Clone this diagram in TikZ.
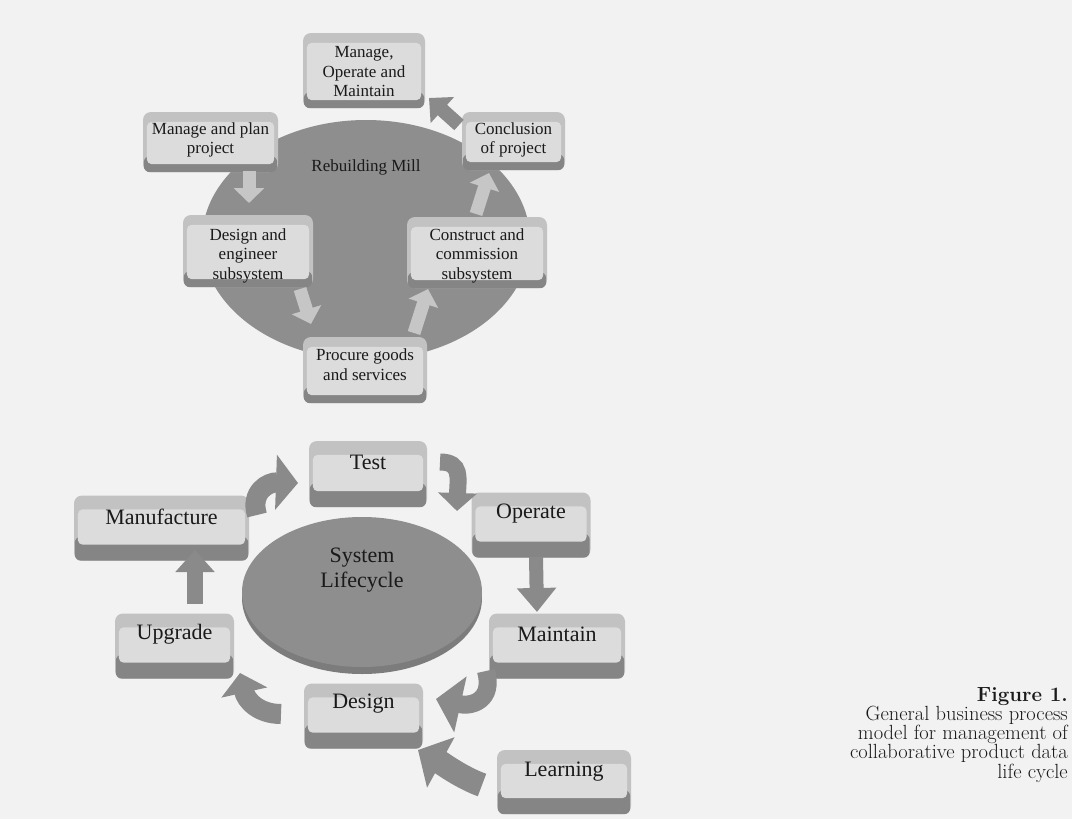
\documentclass[tikz,border=0pt]{standalone}
\usepackage{fontspec}
\newfontfamily\diagfont{Liberation Serif}
\usetikzlibrary{shapes.geometric,arrows.meta,calc}
\definecolor{bgcol}{HTML}{F2F2F2}
\definecolor{boxband}{HTML}{C2C2C2}
\definecolor{boxpanel}{HTML}{DCDCDC}
\definecolor{boxrim}{HTML}{858585}
\definecolor{ellcol}{HTML}{8E8E8E}
\definecolor{ellrim}{HTML}{7C7C7C}
\definecolor{darkcol}{HTML}{8A8A8A}
\definecolor{lightcol}{HTML}{C6C6C6}
\definecolor{txtcol}{HTML}{1A1A1A}

\tikzset{
  outerbox/.style={fill=boxband, rounded corners=8pt, inner sep=0pt, draw=none},
  smalllbl/.style={text=txtcol, align=center, inner sep=0pt, font=\diagfont\fontsize{17}{19.5}\selectfont},
  biglbl/.style={text=txtcol, align=center, inner sep=0pt, font=\diagfont\fontsize{22}{25}\selectfont},
  caplbl/.style={text=txtcol, anchor=base east, inner sep=0pt, font=\fontsize{20.5}{19.25}\selectfont},
  lightarrow/.style={draw=lightcol, line width=13pt, -{Triangle[width=30pt,length=15pt]}},
  darkarrow/.style={draw=darkcol, line width=18pt, -{Triangle[width=48pt,length=22pt]}},
}

% name, cx, cy, w, h, text offset, text
\newcommand\topbox[7]{%
  \node[outerbox, minimum width=#4pt, minimum height=#5pt] (#1) at (#2,#3) {};
  \fill[boxrim, rounded corners=6pt] ($(#1.south west)+(1,-16)$) rectangle ($(#1.south east)+(-1,0)$);
  \fill[boxpanel, rounded corners=5pt] ($(#1.north west)+(4,10)$) rectangle ($(#1.south east)+(-4,-8)$);
  \node[smalllbl] (#1t) at ($(#1.north)+(0,#6)$) {#7};
}
\newcommand\botbox[7]{%
  \node[outerbox, minimum width=#4pt, minimum height=#5pt] (#1) at (#2,#3) {};
  \fill[boxrim, rounded corners=6pt] ($(#1.south west)+(1,-24)$) rectangle ($(#1.south east)+(-1,0)$);
  \fill[boxpanel, rounded corners=5pt] ($(#1.north west)+(4,14)$) rectangle ($(#1.south east)+(-4,-16)$);
  \node[biglbl] (#1t) at ($(#1.north)+(0,#6)$) {#7};
}

\begin{document}
\begin{tikzpicture}[x=1pt,y=-1pt]
\useasboundingbox (0,0) rectangle (1072,819);
\fill[bgcol] (0,0) rectangle (1072,819);

% ---------------- top diagram ----------------
\node[ellipse, fill=ellcol, minimum width=328pt, minimum height=240pt, inner sep=0pt] (mill) at (366,240) {};
\node[smalllbl] (millt) at (366,167) {Rebuilding Mill};

\topbox{mom}{364}{70.5}{122}{75}{39}{Manage,\\Operate and\\Maintain}
\topbox{plan}{210.5}{142}{135}{60}{28}{Manage and plan\\project}
\topbox{concl}{513.5}{141}{103}{58}{28}{Conclusion\\of project}
\topbox{dese}{248}{251}{130}{72}{41}{Design and\\engineer\\subsystem}
\topbox{cons}{477}{252.5}{140}{71}{39}{Construct and\\commission\\subsystem}
\topbox{proc}{365}{370}{124}{66}{28}{Procure goods\\and services}

\coordinate (a1s) at (249,171);  \coordinate (a1e) at (249,203);
\coordinate (a2s) at (300,289);  \coordinate (a2e) at (311,324);
\coordinate (a3s) at (414,333);  \coordinate (a3e) at (428,289);
\coordinate (a4s) at (476,214);  \coordinate (a4e) at (489,173);
\coordinate (a5s) at (459,125);  \coordinate (a5e) at (429,98);
\draw[lightarrow] (a1s) -- (a1e);
\draw[lightarrow] (a2s) -- (a2e);
\draw[lightarrow] (a3s) -- (a3e);
\draw[lightarrow] (a4s) -- (a4e);
\draw[darkarrow, line width=14pt, -{Triangle[width=34pt,length=18pt]}] (a5s) -- (a5e);

% ---------------- bottom diagram ----------------
\fill[ellrim] (362,598) ellipse [x radius=120, y radius=76];
\node[ellipse, fill=ellcol, minimum width=240pt, minimum height=150pt, inner sep=0pt] (life) at (362,592) {};
\node[biglbl] (lifet) at (362,570) {System\\Lifecycle};

\botbox{test}{368}{474}{118}{66}{22}{Test}
\botbox{oper}{531}{525}{119}{65}{21}{Operate}
\botbox{manu}{161.5}{528}{175}{65}{22}{Manufacture}
\botbox{main}{557}{646}{136}{65}{21}{Maintain}
\botbox{upgr}{174.5}{646}{119}{65}{21}{Upgrade}
\botbox{desi}{363.5}{716}{119}{65}{20}{Design}
\botbox{lear}{564}{782}{134}{64}{22}{Learning}

\coordinate (b1s) at (257,515);  \coordinate (b1e) at (298,483);
\coordinate (b2s) at (440,462);  \coordinate (b2e) at (457,511);
\coordinate (b3s) at (536,557);  \coordinate (b3e) at (537,612);
\coordinate (b4s) at (486,671);  \coordinate (b4e) at (436,699);
\coordinate (b5s) at (482,785);  \coordinate (b5e) at (418,750);
\coordinate (b6s) at (281,714);  \coordinate (b6e) at (240,673);
\coordinate (b7s) at (195,604);  \coordinate (b7e) at (195,550);

\draw[darkarrow, line width=20pt, -{Triangle[width=54pt,length=22pt]}] (b1s) .. controls (250,492) and (268,482) .. (b1e);
\draw[darkarrow, line width=17pt, -{Triangle[width=38pt,length=18pt]}] (b2s) .. controls (462,462) and (458,478) .. (b2e);
\draw[darkarrow, line width=14pt, -{Triangle[width=38pt,length=24pt]}] (b3s) -- (b3e);
\draw[darkarrow, line width=18pt, -{Triangle[width=56pt,length=25pt]}] (b4s) .. controls (494,700) and (472,707) .. (b4e);
\draw[darkarrow, line width=24pt, -{Triangle[width=56pt,length=26pt]}] (b5s) .. controls (462,778) and (440,762) .. (b5e);
\draw[darkarrow, line width=20pt, -{Triangle[width=46pt,length=20pt]}] (b6s) .. controls (258,714) and (246,700) .. (b6e);
\draw[darkarrow, line width=16pt, -{Triangle[width=38pt,length=22pt]}] (b7s) -- (b7e);

% ---------------- caption ----------------
\node[caplbl] (cap1) at (1068,701) {\bfseries Figure 1.};
\node[caplbl] (cap2) at (1068,720.25) {General business process};
\node[caplbl] (cap3) at (1068,739.5) {model for management of};
\node[caplbl] (cap4) at (1068,758.75) {collaborative product data};
\node[caplbl] (cap5) at (1068,778) {life cycle};
\end{tikzpicture}
\end{document}
